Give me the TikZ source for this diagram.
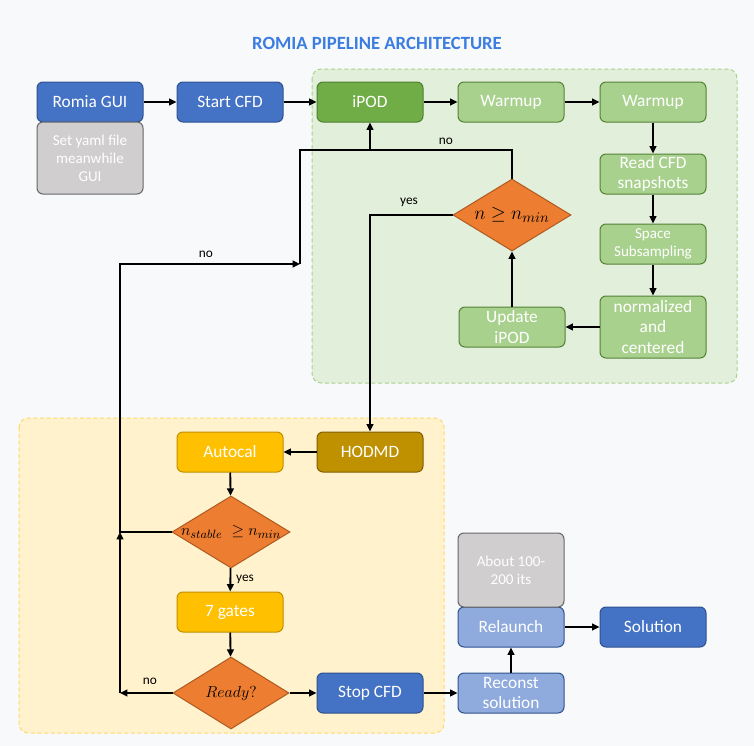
\documentclass[tikz,border=0pt]{standalone}
\usepackage{fontspec}
\setmainfont{Carlito}
\usetikzlibrary{shapes.geometric,arrows.meta}
\definecolor{bgc}{RGB}{248,249,251}
\definecolor{titleblue}{RGB}{59,125,225}
\definecolor{bluefill}{RGB}{68,114,196}
\definecolor{blueedge}{RGB}{47,82,143}
\definecolor{lbluefill}{RGB}{143,170,220}
\definecolor{gfill}{RGB}{112,173,71}
\definecolor{gedge}{RGB}{80,126,50}
\definecolor{lgfill}{RGB}{169,209,142}
\definecolor{lgedge}{RGB}{84,130,53}
\definecolor{grayfill}{RGB}{208,206,206}
\definecolor{grayedge}{RGB}{102,102,102}
\definecolor{yfill}{RGB}{255,192,0}
\definecolor{yedge}{RGB}{191,144,0}
\definecolor{hfill}{RGB}{191,144,0}
\definecolor{hedge}{RGB}{127,96,0}
\definecolor{ofill}{RGB}{237,125,49}
\definecolor{oedge}{RGB}{174,90,33}
\definecolor{greg}{RGB}{226,239,218}
\definecolor{gregedge}{RGB}{169,209,142}
\definecolor{yreg}{RGB}{255,242,204}
\definecolor{yregedge}{RGB}{255,217,102}
\begin{document}
\begin{tikzpicture}[x=0.75pt,y=-0.75pt,
  box/.style={rectangle, rounded corners=4.5pt, draw, line width=0.75pt,
    minimum width=79.5pt, minimum height=30pt, inner sep=1pt, align=center,
    text=white, font=\fontsize{13}{15.5}\selectfont},
  smalltxt/.style={font=\fontsize{11.3}{13.5}\selectfont},
  bluebox/.style={box, fill=bluefill, draw=blueedge},
  lbluebox/.style={box, fill=lbluefill, draw=blueedge},
  gbox/.style={box, fill=gfill, draw=gedge},
  lgbox/.style={box, fill=lgfill, draw=lgedge},
  graybox/.style={box, fill=grayfill, draw=grayedge, smalltxt},
  ybox/.style={box, fill=yfill, draw=yedge},
  hbox/.style={box, fill=hfill, draw=hedge},
  dia/.style={diamond, draw=oedge, fill=ofill, line width=0.75pt, inner sep=0pt,
    minimum width=88.5pt, minimum height=54pt},
  region/.style={dashed, dash pattern=on 3pt off 2pt, rounded corners=7pt, line width=0.75pt},
  arr/.style={line width=1.4pt, -{Triangle[length=5.5pt,width=5pt]}},
  ln/.style={line width=1.4pt},
  lbl/.style={font=\fontsize{10}{12}\selectfont, text=black, inner sep=1pt}
]
\useasboundingbox (0,0) rectangle (754,746);
\fill[bgc] (0,0) rectangle (754,746);

% regions
\draw[region, fill=greg, draw=gregedge] (312,69) rectangle (737,383);
\draw[region, fill=yreg, draw=yregedge] (19,418) rectangle (444,733);

% title
\node[font=\bfseries\fontsize{14}{16}\selectfont, text=titleblue] (title) at (377,43) {ROMIA PIPELINE ARCHITECTURE};

% top row
\node[bluebox] (romia) at (90,102) {Romia GUI};
\node[graybox, minimum height=54pt] (yaml) at (90,158) {Set yaml file\\meanwhile\\GUI};
\node[bluebox] (start) at (230,102) {Start CFD};
\node[gbox] (ipod) at (370,102) {iPOD};
\node[lgbox] (warm1) at (511,102) {Warmup};
\node[lgbox] (warm2) at (653,102) {Warmup};
\node[lgbox] (read) at (653,174) {Read CFD\\snapshots};
\node[lgbox, smalltxt] (space) at (653,244) {Space\\Subsampling};
\node[lgbox, minimum height=46.5pt] (norm) at (653,327) {normalized\\and\\centered};
\node[lgbox] (update) at (512,327) {Update\\iPOD};
\node[dia, label={center:\fontsize{15}{17}\selectfont$n \geq n_{min}$}] (d1) at (512,215) {};

% bottom part
\node[hbox] (hodmd) at (370,452) {HODMD};
\node[ybox] (autocal) at (230,452) {Autocal};
\node[dia, label={center:\fontsize{13}{15}\selectfont$n_{stable}\;\geq n_{min}$}] (d2) at (231,532) {};
\node[ybox] (gates) at (230,612) {7 gates};
\node[dia, minimum width=87pt, label={center:\fontsize{11.5}{13}\selectfont$Ready?$}] (d3) at (231,693) {};
\node[bluebox] (stop) at (370,693) {Stop CFD};
\node[lbluebox] (reconst) at (511,693) {Reconst\\solution};
\node[lbluebox] (relaunch) at (511,627) {Relaunch};
\node[graybox, minimum height=55.5pt] (about) at (511,570) {About 100-\\200 its};
\node[bluebox] (solution) at (653,627) {Solution};

% coordinates for loops
\coordinate (jn) at (370,150);
\coordinate (jl) at (300,264);
\coordinate (lt) at (120,264);
\coordinate (lm) at (120,532);
\coordinate (lb) at (120,693);

% connectors
\draw[arr] (romia) -- (start);
\draw[arr] (start) -- (ipod);
\draw[arr] (ipod) -- (warm1);
\draw[arr] (warm1) -- (warm2);
\draw[arr] (warm2) -- (read);
\draw[arr] (read) -- (space);
\draw[arr] (space) -- (norm);
\draw[arr] (norm) -- (update);
\draw[arr] (update) -- (d1);
\draw[arr] (d1.north) |- (jn) -- (ipod.south);
\draw[arr] (d1.west) -| (hodmd.north);
\draw[arr] (hodmd) -- (autocal);
\draw[arr] (autocal) -- (d2);
\draw[arr] (d2) -- (gates);
\draw[arr] (gates) -- (d3);
\draw[arr] (d3) -- (stop);
\draw[arr] (stop) -- (reconst);
\draw[arr] (reconst) -- (relaunch);
\draw[arr] (relaunch) -- (solution);
\draw[arr] (d3.west) -- (lb);
\draw[arr] (lb) -- (lm);
\draw[arr] (d2.west) -- (lm) -- (lt) -- (jl);
\draw[ln] (jl) |- (jn);

% labels
\node[lbl] (no1) at (446,141) {no};
\node[lbl] (yes1) at (409,202) {yes};
\node[lbl] (no2) at (206,254) {no};
\node[lbl] (yes2) at (245,579) {yes};
\node[lbl] (no3) at (150,681) {no};
\end{tikzpicture}
\end{document}
